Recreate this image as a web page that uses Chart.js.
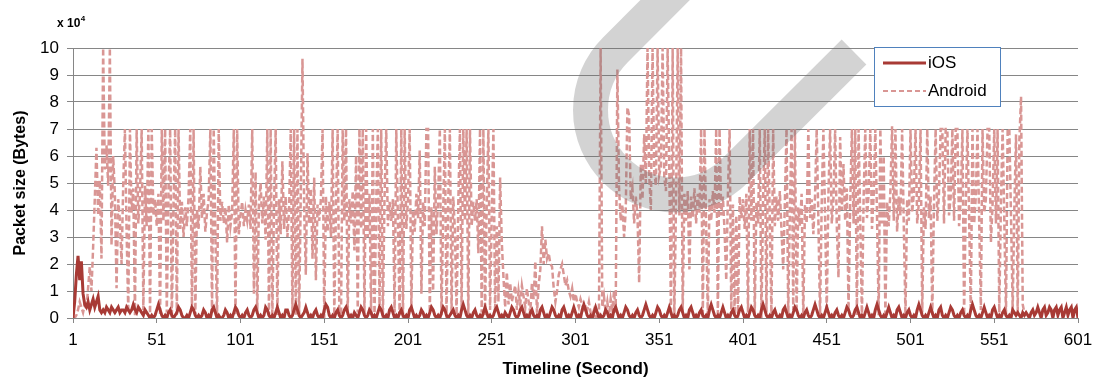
<!DOCTYPE html>
<html>
<head>
<meta charset="utf-8">
<script src="https://cdn.jsdelivr.net/npm/chart.js@4.4.0/dist/chart.umd.min.js"></script>
<style>
html, body { margin: 0; padding: 0; background: #fff; }
#wrap { width: 1100px; height: 380px; }
</style>
</head>
<body>
<div id="wrap"><canvas id="packets" width="1100" height="380"></canvas></div>
<script>
// x labels (second) and y ticks (x 10^4 bytes)
var xTicks = [1, 51, 101, 151, 201, 251, 301, 351, 401, 451, 501, 551, 601];
var yTicks = [0, 1, 2, 3, 4, 5, 6, 7, 8, 9, 10];
var seriesNames = ['iOS', 'Android'];

// iOS packet size per second, x 10^4 bytes (seconds 1..601)
var iosValues = [
    0, 0.6, 1.6, 2.3, 1.4, 2.1, 0.9, 0.5, 0.4, 0.6,
    0.3, 0.5, 0.7, 0.4, 0.6, 0.8, 0.3, 0.2, 0.3, 0.2,
    0.4, 0.3, 0.2, 0.4, 0.3, 0.2, 0.3, 0.4, 0.2, 0.3,
    0.3, 0.2, 0.4, 0.3, 0.2, 0.3, 0.5, 0.3, 0.2, 0.4,
    0.3, 0.2, 0.1, 0.3, 0.2, 0.1, 0.0, 0.1, 0.0, 0.1,
    0.3, 0.5, 0.3, 0.1, 0.0, 0.1, 0.0, 0.2, 0.3, 0.1,
    0.0, 0.1, 0.2, 0.4, 0.3, 0.1, 0.0, 0.0, 0.1, 0.0,
    0.2, 0.4, 0.3, 0.1, 0.0, 0.1, 0.0, 0.1, 0.3, 0.2,
    0.0, 0.1, 0.0, 0.3, 0.4, 0.2, 0.0, 0.1, 0.0, 0.0,
    0.1, 0.3, 0.2, 0.0, 0.1, 0.0, 0.2, 0.4, 0.3, 0.1,
    0.0, 0.1, 0.0, 0.2, 0.3, 0.1, 0.0, 0.1, 0.3, 0.4,
    0.2, 0.0, 0.1, 0.0, 0.1, 0.4, 0.3, 0.1, 0.0, 0.1,
    0.0, 0.2, 0.4, 0.2, 0.0, 0.1, 0.0, 0.3, 0.3, 0.1,
    0.0, 0.1, 0.3, 0.5, 0.3, 0.1, 0.0, 0.1, 0.2, 0.4,
    0.2, 0.0, 0.1, 0.0, 0.2, 0.3, 0.1, 0.0, 0.1, 0.0,
    0.3, 0.5, 0.4, 0.1, 0.0, 0.1, 0.0, 0.2, 0.3, 0.1,
    0.0, 0.1, 0.3, 0.4, 0.2, 0.0, 0.1, 0.0, 0.2, 0.1,
    0.0, 0.2, 0.4, 0.3, 0.1, 0.0, 0.1, 0.3, 0.2, 0.0,
    0.1, 0.0, 0.2, 0.4, 0.3, 0.1, 0.0, 0.1, 0.0, 0.3,
    0.4, 0.2, 0.0, 0.1, 0.0, 0.2, 0.3, 0.1, 0.0, 0.1,
    0.0, 0.3, 0.4, 0.2, 0.0, 0.1, 0.0, 0.1, 0.3, 0.2,
    0.0, 0.1, 0.0, 0.2, 0.4, 0.3, 0.1, 0.0, 0.1, 0.0,
    0.2, 0.4, 0.3, 0.1, 0.0, 0.1, 0.2, 0.3, 0.1, 0.0,
    0.1, 0.0, 0.3, 0.5, 0.3, 0.1, 0.0, 0.1, 0.0, 0.2,
    0.3, 0.1, 0.0, 0.1, 0.0, 0.2, 0.4, 0.2, 0.0, 0.1,
    0.0, 0.1, 0.3, 0.4, 0.2, 0.0, 0.1, 0.0, 0.2, 0.1,
    0.0, 0.2, 0.4, 0.3, 0.1, 0.0, 0.1, 0.3, 0.4, 0.2,
    0.0, 0.1, 0.0, 0.2, 0.3, 0.1, 0.0, 0.1, 0.0, 0.3,
    0.4, 0.2, 0.0, 0.1, 0.0, 0.2, 0.4, 0.3, 0.1, 0.0,
    0.1, 0.0, 0.3, 0.4, 0.2, 0.0, 0.1, 0.0, 0.2, 0.4,
    0.2, 0.0, 0.1, 0.0, 0.3, 0.5, 0.3, 0.1, 0.0, 0.1,
    0.0, 0.2, 0.4, 0.2, 0.0, 0.1, 0.0, 0.1, 0.3, 0.2,
    0.0, 0.1, 0.0, 0.3, 0.4, 0.2, 0.0, 0.1, 0.0, 0.2,
    0.4, 0.3, 0.1, 0.0, 0.1, 0.0, 0.2, 0.3, 0.1, 0.0,
    0.1, 0.3, 0.5, 0.3, 0.1, 0.0, 0.1, 0.0, 0.2, 0.4,
    0.3, 0.1, 0.0, 0.1, 0.0, 0.2, 0.4, 0.2, 0.0, 0.1,
    0.0, 0.1, 0.3, 0.4, 0.2, 0.0, 0.1, 0.0, 0.3, 0.4,
    0.2, 0.0, 0.1, 0.0, 0.2, 0.3, 0.1, 0.0, 0.1, 0.0,
    0.3, 0.5, 0.3, 0.1, 0.0, 0.1, 0.0, 0.2, 0.4, 0.2,
    0.0, 0.1, 0.0, 0.2, 0.3, 0.1, 0.0, 0.1, 0.3, 0.4,
    0.2, 0.0, 0.1, 0.0, 0.2, 0.4, 0.3, 0.1, 0.0, 0.1,
    0.0, 0.3, 0.5, 0.3, 0.1, 0.0, 0.1, 0.0, 0.2, 0.3,
    0.1, 0.0, 0.1, 0.0, 0.3, 0.4, 0.2, 0.0, 0.1, 0.0,
    0.2, 0.4, 0.3, 0.1, 0.0, 0.1, 0.0, 0.2, 0.3, 0.1,
    0.0, 0.1, 0.3, 0.5, 0.3, 0.1, 0.0, 0.1, 0.0, 0.2,
    0.4, 0.2, 0.0, 0.1, 0.0, 0.2, 0.3, 0.1, 0.0, 0.1,
    0.0, 0.2, 0.4, 0.3, 0.1, 0.0, 0.1, 0.3, 0.4, 0.2,
    0.0, 0.1, 0.0, 0.2, 0.4, 0.2, 0.0, 0.1, 0.0, 0.3,
    0.5, 0.3, 0.1, 0.0, 0.1, 0.0, 0.2, 0.4, 0.2, 0.0,
    0.1, 0.0, 0.3, 0.4, 0.2, 0.0, 0.1, 0.0, 0.2, 0.3,
    0.1, 0.0, 0.1, 0.0, 0.3, 0.5, 0.3, 0.1, 0.0, 0.1,
    0.0, 0.2, 0.4, 0.2, 0.0, 0.1, 0.0, 0.3, 0.4, 0.1,
    0.0, 0.1, 0.0, 0.2, 0.4, 0.3, 0.1, 0.0, 0.1, 0.0,
    0.2, 0.3, 0.1, 0.0, 0.1, 0.0, 0.3, 0.5, 0.3, 0.1,
    0.0, 0.1, 0.0, 0.2, 0.4, 0.2, 0.0, 0.1, 0.0, 0.3,
    0.4, 0.2, 0.0, 0.1, 0.0, 0.2, 0.3, 0.1, 0.0, 0.1,
    0.0, 0.3, 0.2, 0.1, 0.2, 0.1, 0.0, 0.2, 0.1, 0.2,
    0.1, 0.0, 0.2, 0.3, 0.1, 0.2, 0.4, 0.2, 0.0, 0.3,
    0.4, 0.1, 0.2, 0.4, 0.3, 0.0, 0.3, 0.4, 0.1, 0.3,
    0.4, 0.0, 0.2, 0.4, 0.1, 0.3, 0.4, 0.0, 0.3, 0.4,
    0.0
];

// Android packet size per second, x 10^4 bytes (no data after second 569)
var androidValues = [
    0, 0, 0.1, 0.3, 0.6, 0.4, 0.2, 0.5, 0.3, 1.1,
    1.9, 1.0, 2.6, 4.4, 6.3, 3.8, 5.1, 2.2, 10, 5.5,
    6.4, 4.9, 10, 2.7, 6.0, 4.6, 1.1, 4.4, 3.6, 2.0,
    5.0, 7.0, 3.2, 0.2, 7.0, 3.9, 4.8, 0.1, 7.0, 3.5,
    4.6, 7.0, 0.3, 4.9, 3.4, 7.0, 0.0, 7.0, 3.8, 4.4,
    3.4, 4.6, 0.1, 7.0, 3.6, 7.0, 0.2, 4.7, 7.0, 0.0,
    4.2, 7.0, 0.1, 7.0, 3.3, 4.3, 3.0, 4.1, 3.4, 4.5,
    7.0, 0.3, 7.0, 0.1, 4.0, 3.3, 5.6, 3.7, 4.6, 3.2,
    3.9, 4.4, 7.0, 0.2, 7.0, 3.0, 0.1, 7.0, 3.6, 4.3,
    3.5, 4.1, 2.8, 4.2, 3.4, 3.9, 7.0, 0.1, 7.0, 3.1,
    3.8, 4.3, 3.4, 4.0, 3.6, 4.2, 3.3, 7.0, 0.9, 5.4,
    0.2, 4.2, 5.0, 3.5, 4.5, 2.9, 7.0, 0.1, 7.0, 0.0,
    4.1, 7.0, 0.1, 4.4, 3.1, 5.8, 3.3, 4.5, 3.0, 4.0,
    7.0, 0.2, 7.0, 0.1, 7.0, 0.1, 4.6, 9.6, 4.0, 1.6,
    6.1, 3.5, 4.8, 2.2, 5.2, 1.4, 4.2, 3.6, 4.4, 7.0,
    0.0, 4.5, 3.2, 4.3, 3.0, 7.0, 0.1, 4.1, 7.0, 0.2,
    0.0, 7.0, 3.6, 7.0, 0.1, 4.4, 3.5, 4.7, 2.5, 6.0,
    0.2, 7.0, 3.3, 7.0, 0.1, 7.0, 3.0, 4.6, 0.1, 7.0,
    0.0, 4.2, 7.0, 0.3, 7.0, 0.0, 4.5, 7.0, 3.4, 4.3,
    3.6, 4.4, 0.2, 7.0, 3.5, 0.1, 7.0, 0.0, 7.0, 3.3,
    4.4, 7.0, 0.4, 4.0, 3.2, 4.6, 3.7, 6.2, 0.9, 4.3,
    3.4, 7.0, 7.0, 0.2, 4.1, 1.0, 5.6, 3.1, 4.4, 7.0,
    0.1, 3.9, 7.0, 0.0, 4.3, 7.0, 0.2, 4.5, 3.3, 0.1,
    4.2, 7.0, 0.3, 7.0, 3.6, 7.0, 0.0, 7.0, 3.4, 4.3,
    3.6, 4.4, 2.4, 7.0, 0.2, 7.0, 0.1, 4.2, 7.0, 0.3,
    3.8, 7.0, 0.2, 3.4, 0.6, 5.2, 2.8, 1.5, 0.4, 1.7,
    0.5, 1.3, 0.6, 0.9, 1.2, 0.3, 1.0, 0.5, 1.2, 0.8,
    0.4, 1.1, 0.6, 0.2, 1.3, 0.7, 2.1, 0.2, 1.2, 1.8,
    3.4, 2.0, 2.9, 2.2, 2.4, 2.0, 1.9, 1.1, 0.6, 1.0,
    1.6, 1.8, 2.0, 1.6, 1.2, 1.4, 1.0, 0.8, 1.1, 0.6,
    0.9, 0.6, 0.4, 0.7, 0.5, 0.2, 0.5, 0.3, 0.6, 0.2,
    0.1, 0.3, 0.0, 0.2, 0.1, 10, 0.4, 0.8, 0.2, 0.6,
    0.1, 0.7, 0.3, 1.0, 0.2, 9.2, 4.8, 3.6, 4.2, 3.0,
    4.0, 7.8, 7.5, 4.4, 4.8, 3.5, 4.5, 3.8, 1.3, 5.7,
    4.4, 6.8, 5.0, 10, 5.3, 4.0, 10, 5.4, 4.9, 10,
    5.3, 5.6, 10, 5.2, 4.7, 10, 5.5, 0.1, 10, 0.0,
    4.2, 10, 3.8, 10, 0.2, 4.6, 3.6, 4.7, 1.8, 4.5,
    3.7, 4.8, 3.5, 4.6, 3.9, 7.0, 0.0, 7.0, 3.4, 0.1,
    4.4, 3.6, 4.7, 3.9, 7.0, 0.0, 7.0, 3.8, 4.5, 3.2,
    1.4, 4.6, 7.0, 0.3, 4.2, 0.1, 3.8, 0.0, 4.5, 3.7,
    4.4, 3.3, 4.6, 0.2, 7.0, 3.6, 7.0, 0.1, 4.3, 3.5,
    7.0, 0.0, 4.4, 7.0, 0.2, 7.0, 3.7, 0.0, 7.0, 3.4,
    4.5, 3.6, 4.7, 3.2, 1.8, 4.3, 7.0, 0.1, 4.0, 7.0,
    0.3, 7.0, 0.2, 4.1, 3.4, 4.6, 0.0, 4.2, 3.5, 7.0,
    3.7, 4.4, 3.1, 4.5, 7.0, 3.6, 0.1, 4.3, 7.0, 3.8,
    0.2, 4.6, 7.0, 3.5, 4.4, 7.0, 3.4, 1.5, 6.7, 4.0,
    5.7, 3.6, 4.8, 0.3, 4.2, 7.0, 3.5, 7.0, 0.1, 7.0,
    3.6, 0.0, 4.4, 7.0, 3.7, 4.6, 7.0, 3.3, 4.5, 7.0,
    3.8, 0.1, 7.0, 3.5, 6.0, 0.0, 4.3, 3.4, 4.7, 7.1,
    3.6, 7.0, 3.2, 4.5, 3.8, 7.0, 3.4, 0.1, 4.4, 3.6,
    7.0, 3.9, 4.6, 7.0, 3.5, 4.3, 7.0, 0.2, 4.1, 3.3,
    7.0, 3.7, 4.5, 0.1, 4.2, 7.0, 3.6, 4.6, 7.0, 7.0,
    3.5, 7.0, 7.0, 3.8, 4.5, 7.0, 3.6, 7.0, 7.0, 3.4,
    4.4, 7.0, 0.1, 4.2, 7.0, 3.7, 0.2, 7.0, 3.5, 4.5,
    7.0, 3.6, 0.3, 7.0, 3.9, 4.4, 7.0, 7.0, 2.8, 4.2,
    7.0, 3.5, 7.0, 0.2, 4.3, 7.0, 3.6, 0.1, 7.0, 7.0,
    3.8, 0.3, 4.1, 6.8, 0.1, 6.6, 8.2, 0.5, 0.2, null,
    null, null, null, null, null, null, null, null, null, null,
    null, null, null, null, null, null, null, null, null, null,
    null, null, null, null, null, null, null, null, null, null,
    null
];

var iosColor = '#a83a35';
var androidColor = '#d99694';
var gridColor = '#868686';
var fontFamily = "'Liberation Sans', Arial, sans-serif";

function toPoints(values) {
    return values.map(function (v, i) { return { x: i + 1, y: v }; });
}

// "x 10^4" unit label, the grey stroke over the plot, and the boxed legend
var extras = {
    id: 'extras',
    afterDraw: function (chart) {
        var ctx = chart.ctx;
        ctx.save();

        ctx.fillStyle = '#000';
        ctx.textBaseline = 'alphabetic';
        ctx.textAlign = 'left';
        ctx.font = 'bold 12px ' + fontFamily;
        ctx.fillText('x 10', 57, 27);
        var w = ctx.measureText('x 10').width;
        ctx.font = 'bold 8px ' + fontFamily;
        ctx.fillText('4', 57 + w + 0.5, 21);

        ctx.strokeStyle = 'rgba(110, 110, 110, 0.3)';
        ctx.lineWidth = 35;
        ctx.lineCap = 'butt';
        ctx.beginPath();
        ctx.moveTo(854, 52);
        ctx.lineTo(735.5, 170);
        ctx.arc(675.5, 110, 85, Math.PI / 4, Math.PI * 5 / 4, false);
        ctx.lineTo(715, -50);
        ctx.stroke();

        var lx = 874.5, ly = 47.5, lw = 126, lh = 59;
        ctx.fillStyle = '#fff';
        ctx.fillRect(lx, ly, lw, lh);
        ctx.strokeStyle = '#4f81bd';
        ctx.lineWidth = 1;
        ctx.strokeRect(lx, ly, lw, lh);

        ctx.font = '17px ' + fontFamily;
        ctx.textBaseline = 'middle';
        ctx.fillStyle = '#000';

        ctx.strokeStyle = iosColor;
        ctx.lineWidth = 3;
        ctx.beginPath();
        ctx.moveTo(883, 63);
        ctx.lineTo(926, 63);
        ctx.stroke();
        ctx.fillText(seriesNames[0], 928, 63);

        ctx.strokeStyle = androidColor;
        ctx.lineWidth = 2;
        ctx.setLineDash([5, 3]);
        ctx.beginPath();
        ctx.moveTo(883, 91);
        ctx.lineTo(926, 91);
        ctx.stroke();
        ctx.setLineDash([]);
        ctx.fillText(seriesNames[1], 928, 91);

        ctx.restore();
    }
};

new Chart(document.getElementById('packets').getContext('2d'), {
    type: 'line',
    data: {
        datasets: [{
            label: seriesNames[0],
            data: toPoints(iosValues),
            borderColor: iosColor,
            borderWidth: 3,
            pointRadius: 0,
            tension: 0
        }, {
            label: seriesNames[1],
            data: toPoints(androidValues),
            borderColor: androidColor,
            borderWidth: 2.5,
            borderDash: [6, 3],
            pointRadius: 0,
            tension: 0,
            spanGaps: false
        }]
    },
    options: {
        responsive: false,
        animation: false,
        devicePixelRatio: 1,
        layout: { padding: { top: 48, right: 22, left: 0, bottom: 0 } },
        plugins: {
            legend: { display: false },
            tooltip: { enabled: false }
        },
        scales: {
            x: {
                type: 'linear',
                min: 1,
                max: 601,
                afterBuildTicks: function (scale) {
                    scale.ticks = xTicks.map(function (v) { return { value: v }; });
                },
                afterFit: function (scale) { scale.height = 62; },
                grid: { drawOnChartArea: false, drawTicks: true, tickLength: 5, color: gridColor },
                border: { display: true, color: gridColor },
                ticks: {
                    autoSkip: false,
                    maxRotation: 0,
                    padding: 7,
                    color: '#000',
                    font: { family: fontFamily, size: 17 }
                },
                title: {
                    display: true,
                    text: 'Timeline (Second)',
                    color: '#000',
                    padding: { top: 0, bottom: 0 },
                    font: { family: fontFamily, size: 17, weight: 'bold' }
                }
            },
            y: {
                min: 0,
                max: 10,
                afterBuildTicks: function (scale) {
                    scale.ticks = yTicks.map(function (v) { return { value: v }; });
                },
                afterFit: function (scale) { scale.width = 73; },
                grid: { color: gridColor, tickLength: 6 },
                border: { display: true, color: gridColor },
                ticks: {
                    padding: 8,
                    color: '#000',
                    font: { family: fontFamily, size: 17 }
                },
                title: {
                    display: true,
                    text: 'Packet size (Bytes)',
                    color: '#000',
                    padding: { top: 11, bottom: 0 },
                    font: { family: fontFamily, size: 16, weight: 'bold' }
                }
            }
        }
    },
    plugins: [extras]
});
</script>
</body>
</html>
